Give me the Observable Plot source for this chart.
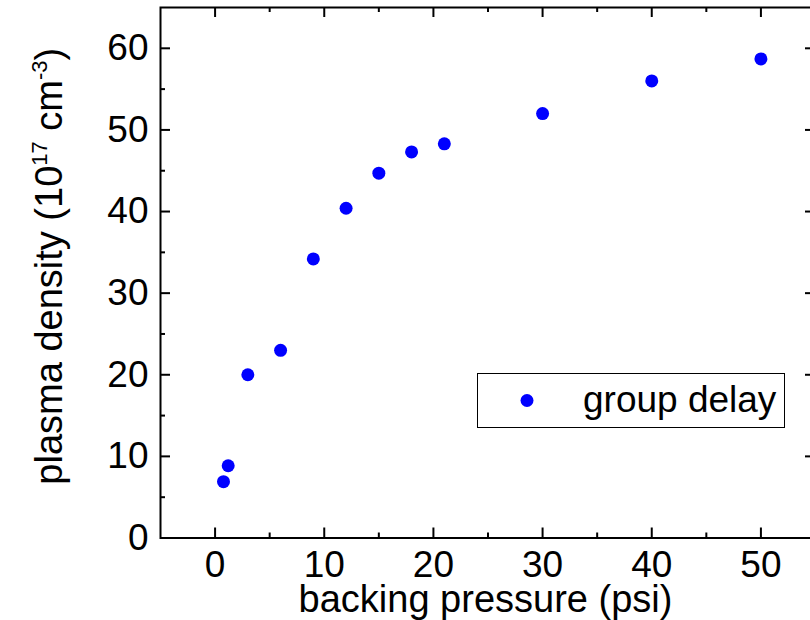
<!DOCTYPE html>
<html><head><meta charset="utf-8">
<script src="https://cdn.jsdelivr.net/npm/d3@7"></script>
<script src="https://cdn.jsdelivr.net/npm/@observablehq/plot@0.6"></script>
<style>html,body{margin:0;padding:0;background:#fff;overflow:hidden;width:810px;height:620px}</style>
</head><body><div id="chart"></div>
<script>
// data
const pressure = [0.77, 1.2, 3, 6, 9, 12, 15, 18, 21, 30, 40, 50];
const density  = [6.9, 8.85, 20.0, 23.0, 34.2, 40.4, 44.7, 47.3, 48.3, 52.0, 56.0, 58.7];
const xMajorTicks = [0, 10, 20, 30, 40, 50];
const xMinorTicks = [5, 15, 25, 35, 45];
const yMajorTicks = [0, 10, 20, 30, 40, 50, 60];
const yMinorTicks = [5, 15, 25, 35, 45, 55];
const xDomain = [-5, 55];
const yDomain = [0, 65];
const xTitle = "backing pressure (psi)";
const yTitleParts = ["plasma density (10", "17", " cm", "-3", ")"];
const seriesName = "group delay";

const W = 810, H = 620, mL = 160, mR = -5, mT = 7, mB = 82.5;
const pw = W - mL - mR, ph = H - mT - mB;
const data = pressure.map((x, i) => ({x, y: density[i]}));
const MAJ = 10, MIN = 5, SW = 2, FS = 37, TFS = 38;

function xTicks(vals, len) {
  return [
    Plot.tickX(vals, {x: d => d, insetTop: ph - len, stroke: "black", strokeWidth: SW}),
    Plot.tickX(vals, {x: d => d, insetBottom: ph - len, stroke: "black", strokeWidth: SW})
  ];
}
function yTicks(vals, len) {
  return [
    Plot.tickY(vals, {y: d => d, insetRight: pw - len, stroke: "black", strokeWidth: SW}),
    Plot.tickY(vals, {y: d => d, insetLeft: pw - len, stroke: "black", strokeWidth: SW})
  ];
}

const chart = Plot.plot({
  width: W, height: H,
  marginLeft: mL, marginRight: mR, marginTop: mT, marginBottom: mB,
  style: {fontFamily: "Arial, 'Liberation Sans', sans-serif", fontSize: FS + "px", color: "black", background: "white", overflow: "hidden"},
  x: {domain: xDomain},
  y: {domain: yDomain},
  marks: [
    Plot.axisX(xMajorTicks, {tickSize: 0, tickPadding: 13, label: null, fill: "black"}),
    Plot.axisY(yMajorTicks, {tickSize: 0, tickPadding: 12, label: null, fill: "black"}),
    ...xTicks(xMajorTicks, MAJ), ...xTicks(xMinorTicks, MIN),
    ...yTicks(yMajorTicks, MAJ), ...yTicks(yMinorTicks, MIN),
    Plot.frame({stroke: "black", strokeWidth: SW}),
    Plot.dot(data, {x: "x", y: "y", r: 6.5, fill: "blue", stroke: null})
  ]
});
document.getElementById("chart").appendChild(chart);

const svg = d3.select(chart);
// x title
svg.append("text").attr("x", mL + pw / 2 - 2).attr("y", 612)
  .attr("text-anchor", "middle").attr("font-size", TFS).attr("fill", "black").text(xTitle);
// y title with superscripts
const yt = svg.append("text")
  .attr("transform", `translate(62,${mT + ph / 2 - 6}) rotate(-90)`)
  .attr("text-anchor", "middle").attr("font-size", TFS).attr("fill", "black");
yt.append("tspan").text(yTitleParts[0]);
yt.append("tspan").attr("font-size", 22).attr("dy", -15).text(yTitleParts[1]);
yt.append("tspan").attr("dy", 15).text(yTitleParts[2]);
yt.append("tspan").attr("font-size", 22).attr("dy", -15).text(yTitleParts[3]);
yt.append("tspan").attr("dy", 15).text(yTitleParts[4]);
// legend
const lg = svg.append("g");
lg.append("rect").attr("x", 477.5).attr("y", 373.5).attr("width", 307).attr("height", 54)
  .attr("fill", "white").attr("stroke", "black").attr("stroke-width", 1);
lg.append("circle").attr("cx", 527).attr("cy", 400.5).attr("r", 6.5).attr("fill", "blue");
lg.append("text").attr("x", 583).attr("y", 412).attr("text-anchor", "start")
  .attr("font-size", FS).attr("fill", "black").text(seriesName);
</script></body></html>
